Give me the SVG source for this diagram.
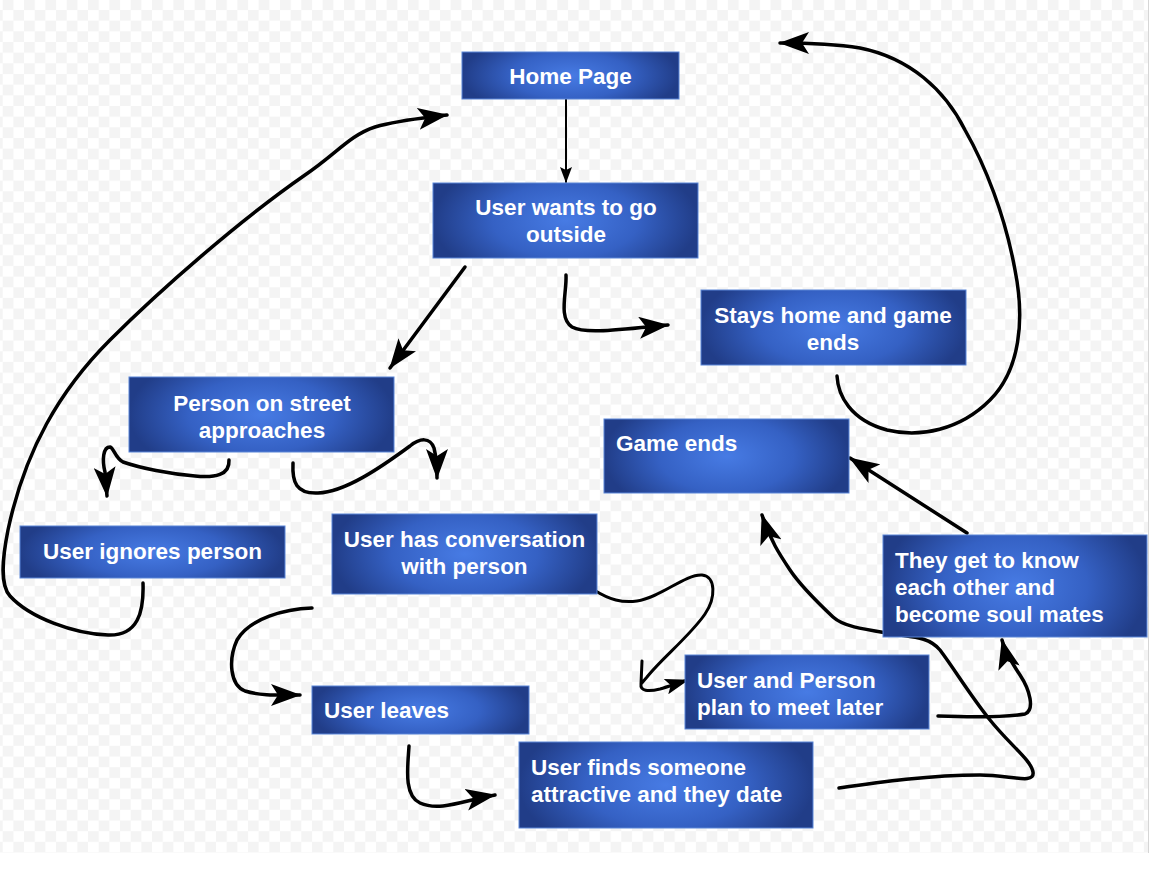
<svg xmlns="http://www.w3.org/2000/svg" width="1160" height="870" viewBox="0 0 1160 870">
  <defs>
    <pattern id="checker" x="2.7" y="-0.7" width="21.33" height="21.33" patternUnits="userSpaceOnUse">
      <rect width="21.33" height="21.33" fill="#ffffff"/>
      <rect width="10.67" height="10.67" fill="#f4f4f4"/>
      <rect x="10.67" y="10.67" width="10.67" height="10.67" fill="#f4f4f4"/>
    </pattern>
    <radialGradient id="boxFill" cx="0.5" cy="0.5" r="0.5" gradientTransform="translate(0.5,0.5) scale(1,1.8) translate(-0.5,-0.5)">
      <stop offset="0" stop-color="#477be4"/>
      <stop offset="0.55" stop-color="#3561c4"/>
      <stop offset="1" stop-color="#213d88"/>
    </radialGradient>
    <marker id="arrow" viewBox="0 0 30 22" refX="29" refY="11" markerWidth="30" markerHeight="22" markerUnits="userSpaceOnUse" orient="auto">
      <path d="M0,0 L30,11 L0,22 L7,11 Z" fill="#000"/>
    </marker>
    <marker id="arrowS" viewBox="0 0 24 16" refX="23" refY="8" markerWidth="24" markerHeight="16" markerUnits="userSpaceOnUse" orient="auto">
      <path d="M0,0 L24,8 L0,16 L5,8 Z" fill="#000"/>
    </marker>
    <marker id="arrowT" viewBox="0 0 16 12" refX="15" refY="6" markerWidth="16" markerHeight="12" markerUnits="userSpaceOnUse" orient="auto">
      <path d="M0,0 L16,6 L0,12 L3,6 Z" fill="#000"/>
    </marker>
  </defs>
  <style>
    .box { fill: url(#boxFill); stroke: #5a86d8; stroke-width: 1; }
    .lbl { font-family: "Liberation Sans", Arial, Helvetica, sans-serif; font-weight: bold; font-size: 22.5px; fill: #ffffff; }
    .c { text-anchor: middle; }
    .conn { fill: none; stroke: #000; stroke-width: 3.5; stroke-linecap: round; stroke-linejoin: round; }
  </style>

  <rect x="0" y="0" width="1160" height="870" fill="#ffffff"/>
  <rect x="0" y="0" width="1148" height="853" fill="url(#checker)"/>
  <line x1="1148.5" y1="0" x2="1148.5" y2="853" stroke="#d6d6d6" stroke-width="1"/>

  <g id="connectors">
    <path class="conn" style="stroke-width:2" d="M566,99 L566,182" marker-end="url(#arrowT)"/>
    <path class="conn" d="M465,267 L390,368" marker-end="url(#arrow)"/>
    <path class="conn" d="M566,275 C567,292 558,318 572,327 C585,334 615,330 668,325" marker-end="url(#arrow)"/>
    <path class="conn" d="M143,583 C144,612 138,636 108,635 C75,634 30,618 10,596 C0,585 2,560 8,530 C25,450 60,390 110,340 C160,290 240,220 305,175 C335,155 350,135 375,127 C400,120 425,118 447,115" marker-end="url(#arrow)"/>
    <path class="conn" d="M229,460 C230,475 215,478 195,476 C170,474 140,468 123,462 C115,458 114,448 110,447 C103,447 102,460 105,472 L107,496" marker-end="url(#arrow)"/>
    <path class="conn" d="M293,463 C292,482 296,494 318,493 C345,492 380,468 410,446 C420,438 430,437 434,448 C436,456 437,466 437,478" marker-end="url(#arrow)"/>
    <path class="conn" style="stroke-width:3" d="M642,661 L641,684 M594,590 C610,600 622,603 637,601 C660,598 685,574 702,575 C716,576 716,598 705,614 C690,636 662,658 647,677 L641,684 C640,691 648,692 660,689 C670,686 678,683 688,680" marker-end="url(#arrowS)"/>
    <path class="conn" d="M312,608 C285,609 250,618 237,640 C228,660 230,685 245,691 C260,696 280,695 300,695" marker-end="url(#arrow)"/>
    <path class="conn" d="M409,746 C408,765 403,795 420,803 C440,812 465,800 495,795" marker-end="url(#arrow)"/>
    <path class="conn" d="M839,788 C880,782 930,775 980,775 C1010,775 1035,785 1033,772 C1031,760 1010,745 990,720 C970,695 955,670 940,650 C930,638 915,637 900,635 C870,630 845,628 833,617 C815,600 800,585 790,570 C780,555 770,540 762,515" marker-end="url(#arrow)"/>
    <path class="conn" d="M938,716 C965,717 1000,718 1025,714 C1035,710 1030,690 1020,675 C1012,663 1005,652 1002,640" marker-end="url(#arrow)"/>
    <path class="conn" d="M967,533 L850,458" marker-end="url(#arrow)"/>
    <path class="conn" d="M837,376 C838,395 850,420 887,430 C920,438 960,430 990,400 C1020,370 1025,320 1015,270 C1005,215 985,165 965,130 C945,90 910,58 860,48 C835,44 805,43 780,43" marker-end="url(#arrow)"/>
  </g>

  <g id="home-page">
    <rect class="box" x="462" y="52" width="217" height="47"/>
    <text class="lbl c" x="570.5" y="84">Home Page</text>
  </g>
  <g id="user-wants-outside">
    <rect class="box" x="433" y="183" width="265" height="75"/>
    <text class="lbl c" x="566" y="215">User wants to go</text>
    <text class="lbl c" x="566" y="242">outside</text>
  </g>
  <g id="stays-home">
    <rect class="box" x="701" y="290" width="265" height="75"/>
    <text class="lbl c" x="833" y="323">Stays home and game</text>
    <text class="lbl c" x="833" y="350">ends</text>
  </g>
  <g id="person-approaches">
    <rect class="box" x="129" y="377" width="265" height="75"/>
    <text class="lbl c" x="262" y="411">Person on street</text>
    <text class="lbl c" x="262" y="438">approaches</text>
  </g>
  <g id="game-ends">
    <rect class="box" x="604" y="419" width="245" height="74"/>
    <text class="lbl" x="616" y="451">Game ends</text>
  </g>
  <g id="user-ignores">
    <rect class="box" x="20" y="526" width="265" height="52"/>
    <text class="lbl c" x="152.5" y="559">User ignores person</text>
  </g>
  <g id="user-conversation">
    <rect class="box" x="332" y="514" width="265" height="80"/>
    <text class="lbl c" x="464.5" y="547">User has conversation</text>
    <text class="lbl c" x="464.5" y="574">with person</text>
  </g>
  <g id="soul-mates">
    <rect class="box" x="883" y="535" width="264" height="102"/>
    <text class="lbl" x="895" y="568">They get to know</text>
    <text class="lbl" x="895" y="595">each other and</text>
    <text class="lbl" x="895" y="622">become soul mates</text>
  </g>
  <g id="plan-meet">
    <rect class="box" x="685" y="655" width="244" height="74"/>
    <text class="lbl" x="697" y="688">User and Person</text>
    <text class="lbl" x="697" y="715">plan to meet later</text>
  </g>
  <g id="user-leaves">
    <rect class="box" x="312" y="686" width="217" height="48"/>
    <text class="lbl" x="324" y="718">User leaves</text>
  </g>
  <g id="user-finds">
    <rect class="box" x="519" y="742" width="294" height="86"/>
    <text class="lbl" x="531" y="775">User finds someone</text>
    <text class="lbl" x="531" y="802">attractive and they date</text>
  </g>
</svg>
